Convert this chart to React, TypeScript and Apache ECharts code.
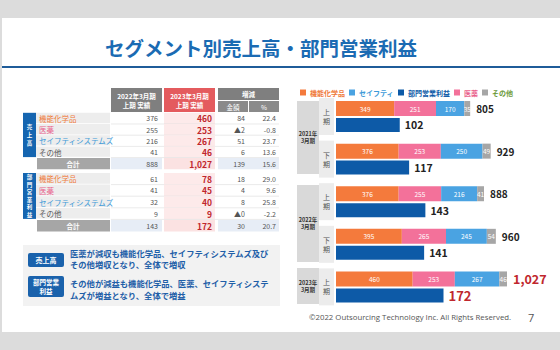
import React, { useEffect, useRef } from 'react';
import * as echarts from 'echarts';

const FONT = "'Noto Sans CJK JP', 'Noto Sans', sans-serif";

// ---- table data ----
const segments = ['機能化学品', '医薬', 'セイフティシステムズ', 'その他'];
const segColors = ['#ef7a3b', '#e95f8b', '#3d9ad8', '#555555'];
const sales2022 = [376, 255, 216, 41];
const sales2023 = [460, 253, 267, 46];
const salesDiff = ['84', '▲2', '51', '6'];
const salesPct = [22.4, -0.8, 23.7, 13.6];
const salesTotals = [888, 1027, '139', 15.6];
const profit2022 = [61, 41, 32, 9];
const profit2023 = [78, 45, 40, 9];
const profitDiff = ['18', '4', '8', '▲0'];
const profitPct = [29.0, 9.6, 25.8, -2.2];
const profitTotals = [143, 172, '30', 20.7];

// ---- chart data ----
const periods = ['2021上', '2021下', '2022上', '2022下', '2023上'];
const halfLabels = ['上期', '下期', '上期', '下期', '上期'];
const yearGroups = ['2021年\n3月期', '2022年\n3月期', '2023年\n3月期'];
const chemical = [349, 376, 376, 395, 460];
const pharma = [251, 253, 255, 265, 253];
const safety = [170, 250, 216, 245, 267];
const other = [35, 49, 41, 54, 46];
const salesTotal = [805, 929, 888, 960, 1027];
const profit = [102, 117, 143, 141, 172];

const fmt = (v: number) => v.toLocaleString('en-US');

function txt(x: number, y: number, text: string, o: any = {}) {
  return {
    type: 'text', x, y, silent: true,
    style: {
      text, fill: o.fill || '#555', fontSize: o.fontSize || 7,
      fontWeight: o.fontWeight || 'normal', fontFamily: o.fontFamily || FONT,
      align: o.align || 'left', verticalAlign: 'middle',
      lineHeight: o.lineHeight,
    },
  };
}
function rect(x: number, y: number, w: number, h: number, fill: string, r = 0) {
  return { type: 'rect', silent: true, shape: { x, y, width: w, height: h, r }, style: { fill } };
}
function hline(x1: number, x2: number, y: number, color: string) {
  return { type: 'line', silent: true, shape: { x1, y1: y, x2, y2: y }, style: { stroke: color, lineWidth: 0.6 } };
}

function buildGraphics() {
  const G: any[] = [];
  // title
  G.push(txt(261, 47, 'セグメント別売上高・部門営業利益', { fill: '#1b6bb3', fontSize: 19.5, fontWeight: 'bold', align: 'center' }));
  G.push(rect(2, 66, 558, 2, '#1f5c99'));

  // table header
  G.push(rect(111, 88, 51, 24, '#7f7f7f'));
  G.push(txt(136.5, 100, '2022年3月期\n上期 実績', { fill: '#fff', fontSize: 6.5, fontWeight: 'bold', align: 'center', lineHeight: 9 }));
  G.push(rect(164, 88, 51, 24, '#e45b5e'));
  G.push(txt(189.5, 100, '2023年3月期\n上期 実績', { fill: '#fff', fontSize: 6.5, fontWeight: 'bold', align: 'center', lineHeight: 9 }));
  G.push(rect(218, 88, 61, 12, '#7f7f7f'));
  G.push(txt(248.5, 94, '増減', { fill: '#fff', fontSize: 6.5, fontWeight: 'bold', align: 'center' }));
  G.push(rect(218, 101, 30, 11, '#8a8a8a'));
  G.push(txt(233, 106.5, '金額', { fill: '#fff', fontSize: 6.5, align: 'center' }));
  G.push(rect(249, 101, 30, 11, '#8a8a8a'));
  G.push(txt(264, 106.5, '%', { fill: '#fff', fontSize: 6.5, align: 'center' }));

  const block = (y0: number, rowH: number, title: string, v22: number[], v23: number[], diff: string[], pct: number[], tot: any[]) => {
    G.push(rect(23, y0, 13, rowH * 4 - 0.5, '#1565b0'));
    G.push(txt(29.5, y0 + rowH * 2, title.split('').join('\n'), { fill: '#fff', fontSize: 5.5, fontWeight: 'bold', align: 'center', lineHeight: title.length > 3 ? 7.5 : 8 }));
    for (let i = 0; i < 4; i++) {
      const y = y0 + i * rowH;
      const cy = y + rowH / 2;
      G.push(rect(36, y, 74, rowH - 0.8, '#ededed'));
      G.push(rect(164, y, 51, rowH, '#fdeaea'));
      G.push(hline(111, 279, y + rowH, '#dcdcdc'));
      G.push(txt(39, cy, segments[i], { fill: segColors[i], fontSize: 7.5 }));
      G.push(txt(158, cy, String(v22[i]), { align: 'right', fontSize: 7, fill: '#555' }));
      G.push(txt(212, cy, fmt(v23[i]), { align: 'right', fontSize: 8.5, fontWeight: 'bold', fill: '#c0272d' }));
      G.push(txt(245, cy, diff[i], { align: 'right', fontSize: 7, fill: '#555' }));
      G.push(txt(276, cy, pct[i].toFixed(1), { align: 'right', fontSize: 7, fill: '#555' }));
    }
    const ty = y0 + 4 * rowH + 0.5;
    const tc = ty + rowH / 2;
    G.push(rect(37, ty, 73, rowH, '#a6a6a6'));
    G.push(txt(73, tc, '合計', { fill: '#fff', fontSize: 6.5, fontWeight: 'bold', align: 'center' }));
    G.push(rect(111, ty, 51, rowH, '#e7edf6'));
    G.push(rect(164, ty, 51, rowH, '#fbe2e2'));
    G.push(rect(218, ty, 61, rowH, '#e7edf6'));
    G.push(txt(158, tc, String(tot[0]), { align: 'right', fontSize: 7, fill: '#555' }));
    G.push(txt(212, tc, fmt(tot[1]), { align: 'right', fontSize: 8.5, fontWeight: 'bold', fill: '#c0272d' }));
    G.push(txt(245, tc, String(tot[2]), { align: 'right', fontSize: 7, fill: '#555' }));
    G.push(txt(276, tc, tot[3].toFixed(1), { align: 'right', fontSize: 7, fill: '#555' }));
  };
  block(112.8, 11.2, '売上高', sales2022, sales2023, salesDiff, salesPct, salesTotals);
  block(173, 11.6, '部門営業利益', profit2022, profit2023, profitDiff, profitPct, profitTotals);

  // comment box
  G.push(rect(23, 245, 257, 61, '#f2f2f2'));
  G.push(rect(28, 253, 36, 14, '#1a62ac', 2));
  G.push(txt(46, 260, '売上高', { fill: '#fff', fontSize: 7, fontWeight: 'bold', align: 'center' }));
  G.push(txt(70, 252.5, '医薬が減収も機能化学品、セイフティシステムズ及び', { fill: '#1f5fa8', fontSize: 8.3, fontWeight: 'bold' }));
  G.push(txt(70, 264, 'その他増収となり、全体で増収', { fill: '#1f5fa8', fontSize: 8.3, fontWeight: 'bold' }));
  G.push(rect(28, 276, 36, 21, '#1a62ac', 2));
  G.push(txt(46, 286.5, '部門営業\n利益', { fill: '#fff', fontSize: 6.5, fontWeight: 'bold', align: 'center', lineHeight: 8.5 }));
  G.push(txt(70, 283, 'その他が減益も機能化学品、医薬、セイフティシステ', { fill: '#1f5fa8', fontSize: 8.3, fontWeight: 'bold' }));
  G.push(txt(70, 295, 'ムズが増益となり、全体で増益', { fill: '#1f5fa8', fontSize: 8.3, fontWeight: 'bold' }));

  // chart year group column
  const groups = [[101, 174], [185, 262], [268, 304]];
  groups.forEach((g, i) => {
    G.push(rect(297, g[0], 22, g[1] - g[0], '#d9d9d9'));
    G.push(txt(308, (g[0] + g[1]) / 2, yearGroups[i], { fill: '#333', fontSize: 5.5, fontWeight: 'bold', align: 'center', lineHeight: 7 }));
  });

  // footer
  G.push(txt(309, 317, '©2022 Outsourcing Technology Inc. All Rights Reserved.', { fill: '#555', fontSize: 7.8, fontFamily: "'Open Sans', 'Noto Sans', sans-serif" }));
  G.push(txt(528, 317, '7', { fill: '#555', fontSize: 11, fontFamily: "'Open Sans', sans-serif" }));
  return G;
}

function buildOption() {
  const stackDefs = [
    { name: '機能化学品', data: chemical, color: '#f47a3c' },
    { name: '医薬', data: pharma, color: '#f3719a' },
    { name: 'セイフティ', data: safety, color: '#4aa3e2' },
    { name: 'その他', data: other, color: '#a6a6a6' },
  ];
  const last = periods.length - 1;
  const series: any[] = stackDefs.map((s) => ({
    type: 'bar', name: s.name, stack: 'sales', xAxisIndex: 0, yAxisIndex: 0,
    barWidth: 15, data: s.data, itemStyle: { color: s.color },
    label: { show: true, position: 'inside', color: '#fff', fontSize: 6.5, fontFamily: FONT },
  }));
  series.push({
    type: 'bar', name: '合計', stack: 'sales', xAxisIndex: 0, yAxisIndex: 0, barWidth: 15,
    itemStyle: { color: 'rgba(0,0,0,0)' },
    data: salesTotal.map((t, i) => ({ value: 0, label: i === last ? { color: '#c0272d', fontSize: 12.5 } : undefined })),
    label: {
      show: true, position: 'right', distance: 6, fontSize: 10, fontWeight: 'bold', color: '#222', fontFamily: FONT,
      formatter: (p: any) => fmt(salesTotal[p.dataIndex]),
    },
  });
  series.push({
    type: 'bar', name: '部門営業利益', xAxisIndex: 1, yAxisIndex: 0, barWidth: 14, barGap: '13%',
    itemStyle: { color: '#0d5aa7' },
    data: profit.map((v, i) => (i === last ? { value: v, label: { color: '#c0272d', fontSize: 13 } } : v)),
    label: { show: true, position: 'right', distance: 5, fontSize: 10.5, fontWeight: 'bold', color: '#222', fontFamily: FONT },
  });

  return {
    animation: false,
    backgroundColor: 'transparent',
    textStyle: { fontFamily: FONT },
    legend: {
      left: 295, top: 84, icon: 'rect', itemWidth: 6, itemHeight: 6, itemGap: 4,
      textStyle: { fontSize: 7, fontFamily: FONT, fontWeight: 'bold', padding: [0, 0, 0, -1] },
      data: [
        { name: '機能化学品', textStyle: { color: '#ef7a3b' } },
        { name: 'セイフティ', textStyle: { color: '#3d9ad8' } },
        { name: '部門営業利益', textStyle: { color: '#0d5aa7' } },
        { name: '医薬', textStyle: { color: '#e95f8b' } },
        { name: 'その他', textStyle: { color: '#6b9a3a' } },
      ],
    },
    grid: { left: 336, top: 95.2, width: 200, height: 213, containLabel: false },
    xAxis: [
      { type: 'value', min: 0, max: 1200, show: false },
      { type: 'value', min: 0, max: 320, show: false },
    ],
    yAxis: {
      type: 'category', inverse: true, data: periods,
      axisLine: { show: false }, axisTick: { show: false },
      axisLabel: {
        formatter: (_v: string, i: number) => halfLabels[i].split('').join('\n'),
        backgroundColor: '#ececec', width: 15, height: 37, align: 'center', verticalAlign: 'middle',
        lineHeight: 9, margin: 9.5, fontSize: 7, color: '#555', fontFamily: FONT,
      },
    },
    graphic: buildGraphics(),
    series,
  };
}

export default function App() {
  const ref = useRef<HTMLDivElement>(null);
  useEffect(() => {
    const chart = echarts.init(ref.current!, null, { renderer: 'svg' });
    chart.setOption(buildOption() as any);
    return () => chart.dispose();
  }, []);
  return (
    <div style={{ position: 'fixed', left: 0, top: 0, width: 560, height: 350, background: '#dcdcdc' }}>
      <div style={{ position: 'absolute', left: 2, top: 18, width: 558, height: 314, background: '#fff' }} />
      <div ref={ref} style={{ position: 'absolute', left: 0, top: 0, width: 560, height: 350 }} />
    </div>
  );
}
